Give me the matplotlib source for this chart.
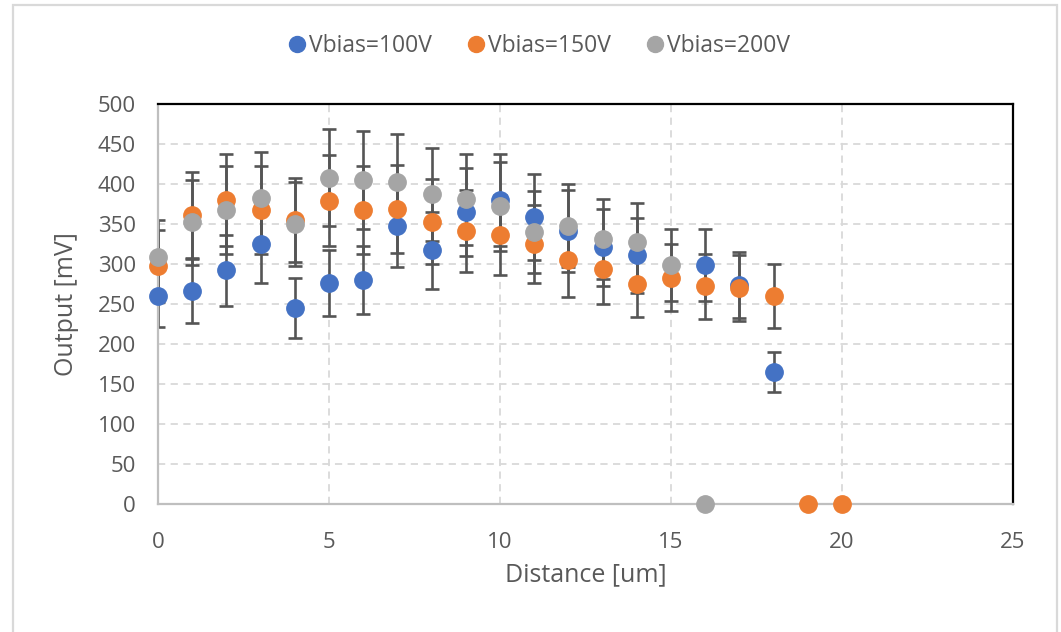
import matplotlib.pyplot as plt
from matplotlib.patches import Rectangle

plt.rcParams['font.family'] = ['Open Sans', 'DejaVu Sans']

# measured output vs. distance for each bias voltage
dist_100 = [0, 1, 2, 3, 4, 5, 6, 7, 8, 9, 10, 11, 12, 13, 14, 16, 17, 18]
out_100 = [260, 266, 292, 325, 245, 276, 280, 348, 317, 365, 380, 359, 341, 321, 311, 299, 274, 165]
err_100 = [39, 40, 44, 49, 37, 41, 42, 52, 48, 55, 57, 54, 51, 48, 47, 45, 41, 25]

dist_150 = [0, 1, 2, 3, 4, 5, 6, 7, 8, 9, 10, 11, 12, 13, 14, 15, 16, 17, 18, 19, 20]
out_150 = [298, 361, 380, 367, 355, 379, 367, 369, 353, 341, 336, 325, 305, 294, 275, 283, 272, 270, 260, 0, 0]
err_150 = [45, 54, 57, 55, 53, 57, 55, 55, 53, 51, 50, 49, 46, 44, 41, 42, 41, 41, 40, 0, 0]

dist_200 = [0, 1, 2, 3, 4, 5, 6, 7, 8, 9, 10, 11, 12, 13, 14, 15, 16]
out_200 = [309, 352, 368, 383, 350, 408, 405, 403, 387, 381, 372, 340, 348, 331, 327, 299, 0]
err_200 = [46, 53, 55, 57, 53, 61, 61, 60, 58, 57, 56, 51, 52, 50, 49, 45, 0]

series = [
    ("Vbias=100V", dist_100, out_100, err_100, "#4472C4"),
    ("Vbias=150V", dist_150, out_150, err_150, "#ED7D31"),
    ("Vbias=200V", dist_200, out_200, err_200, "#A5A5A5"),
]

txt = "#595959"

fig = plt.figure(figsize=(10.61, 6.32), dpi=100)
ax = fig.add_axes([158 / 1061, 1 - 504 / 632, 855 / 1061, 400 / 632])

# chart area border
fig.patches.append(Rectangle((13 / 1061, -0.05), 1044 / 1061, 1.05 - 5 / 632,
                             transform=fig.transFigure, fill=False,
                             edgecolor="#D9D9D9", lw=1.6))

handles = []
for label, x, y, e, col in series:
    ax.errorbar(x, y, yerr=e, fmt="none", ecolor="#555555", elinewidth=1.9,
                capsize=4.8, capthick=1.9, zorder=2)
for label, x, y, e, col in series:
    h, = ax.plot(x, y, "o", color=col, markersize=12.5, label=label,
                 zorder=3, clip_on=False)
    handles.append(h)

ax.set_xlim(0, 25)
ax.set_ylim(0, 500)
ax.set_xticks(range(0, 26, 5))
ax.set_yticks(range(0, 501, 50))

ax.grid(True, color="#D9D9D9", linestyle=(0, (4, 3)), linewidth=1.3)
ax.set_axisbelow(True)

for side in ["left", "bottom"]:
    ax.spines[side].set_color("#BFBFBF")
    ax.spines[side].set_linewidth(1.6)
for side in ["top", "right"]:
    ax.spines[side].set_color("black")
    ax.spines[side].set_linewidth(1.6)

ax.tick_params(axis="both", length=0, labelsize=16, labelcolor=txt)
ax.tick_params(axis="y", pad=16)
ax.tick_params(axis="x", pad=20)

ax.set_xlabel("Distance [um]", fontsize=18, color=txt, labelpad=7)
ax.set_ylabel("Output [mV]", fontsize=18, color=txt, labelpad=13)

fig.legend(handles=handles, loc="center", bbox_to_anchor=(540 / 1061, 1 - 46 / 632),
           ncol=3, frameon=False, fontsize=16.5, labelcolor=txt, markerscale=0.92,
           handlelength=0.6, handletextpad=0.25, columnspacing=1.6)

plt.savefig("out.png", dpi=100)
